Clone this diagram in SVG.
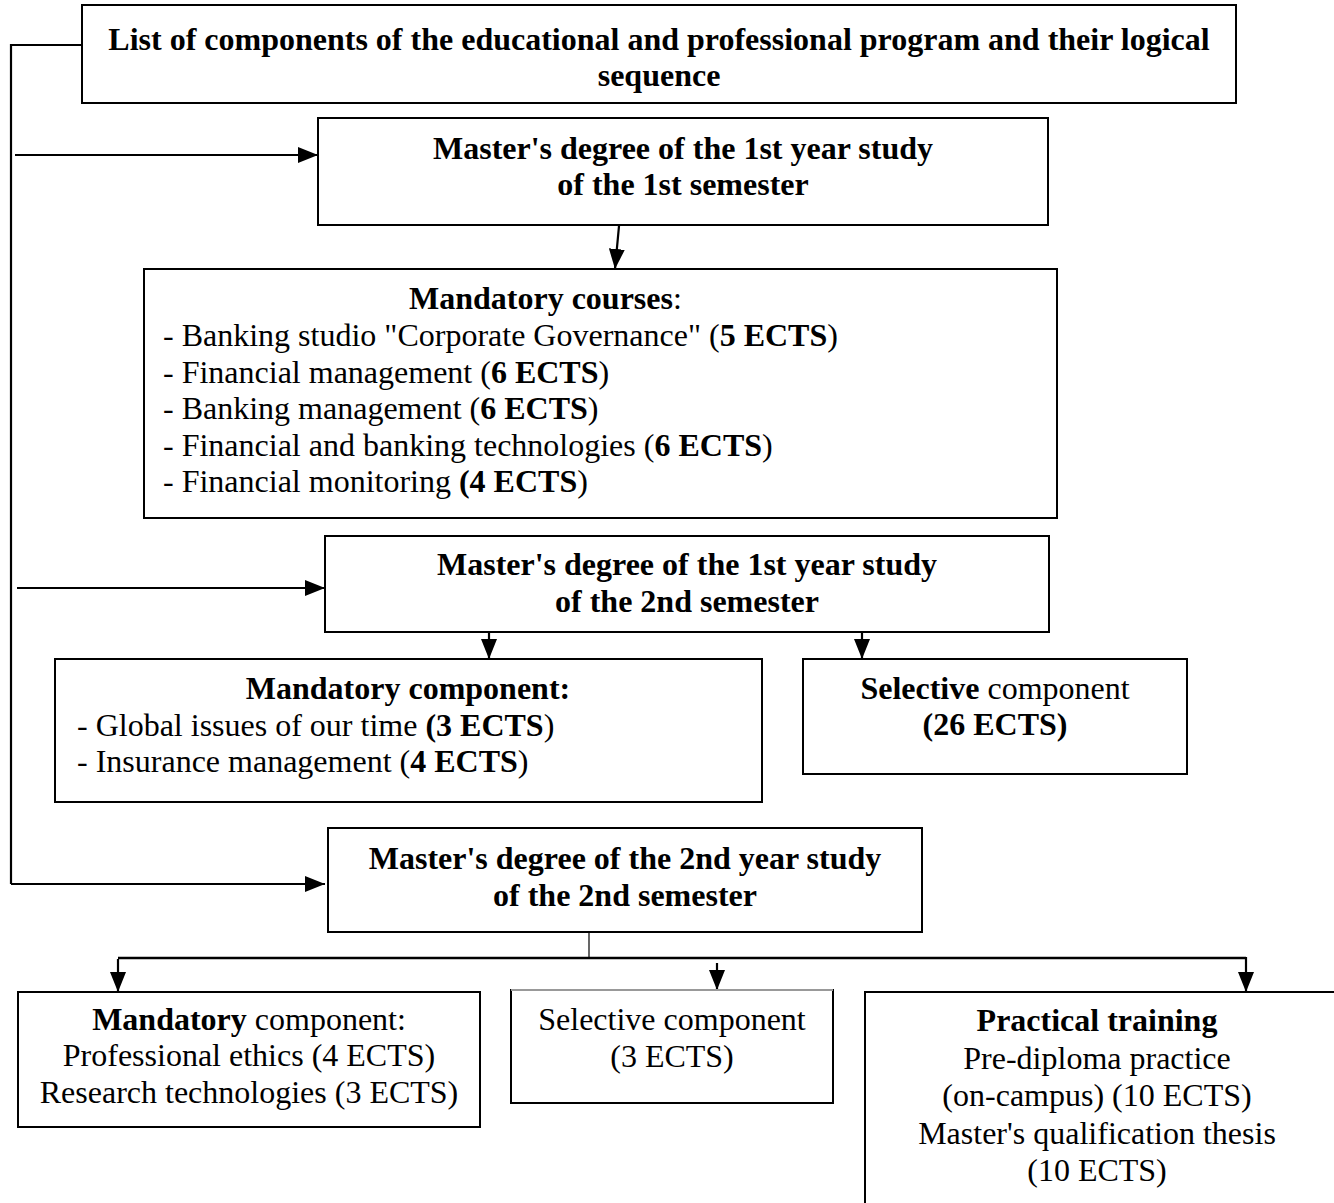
<svg xmlns="http://www.w3.org/2000/svg" width="1334" height="1203" viewBox="0 0 1334 1203">
<defs>
<style>
.box{fill:#fff;stroke:#000;stroke-width:2}
.ln{fill:none;stroke:#000;stroke-width:2.2}
text{font-family:"Liberation Serif","Times New Roman",serif;font-size:32px;fill:#000}
.c{text-anchor:middle}
.b{font-weight:bold}
</style>
<marker id="ar" markerUnits="userSpaceOnUse" markerWidth="20" markerHeight="16" viewBox="0 0 20 16" refX="20" refY="8" orient="auto">
<path d="M0,0 L20,8 L0,16 Z" fill="#000"/>
</marker>
</defs>
<rect width="1334" height="1203" fill="#fff"/>

<g id="connectors">
<path class="ln" d="M82,45 H11 V884"/>
<line class="ln" x1="15" y1="155" x2="318" y2="155" marker-end="url(#ar)"/>
<line class="ln" x1="17" y1="588" x2="325" y2="588" marker-end="url(#ar)"/>
<line class="ln" x1="11" y1="884" x2="325" y2="884" marker-end="url(#ar)"/>
<line class="ln" x1="619" y1="226" x2="615" y2="269" marker-end="url(#ar)"/>
<line class="ln" x1="489" y1="633" x2="489" y2="659" marker-end="url(#ar)"/>
<line class="ln" x1="862" y1="633" x2="862" y2="659" marker-end="url(#ar)"/>
<line x1="589" y1="932" x2="589" y2="957" stroke="#000" stroke-width="1.2"/>
<line x1="118" y1="958" x2="1246" y2="958" stroke="#000" stroke-width="2.6"/>
<line class="ln" x1="118" y1="959" x2="118" y2="992" marker-end="url(#ar)"/>
<line class="ln" x1="717" y1="963" x2="717" y2="990" marker-end="url(#ar)"/>
<line class="ln" x1="1246" y1="957" x2="1246" y2="992" marker-end="url(#ar)"/>
</g>

<g id="n1">
<rect class="box" x="82" y="5" width="1154" height="98"/>
<text class="c b" x="659" y="50">List of components of the educational and professional program and their logical</text>
<text class="c b" x="659" y="86">sequence</text>
</g>

<g id="n2">
<rect class="box" x="318" y="118" width="730" height="107"/>
<text class="c b" x="683" y="159">Master's degree of the 1st year study</text>
<text class="c b" x="683" y="195">of the 1st semester</text>
</g>

<g id="n3">
<rect class="box" x="144" y="269" width="913" height="249"/>
<text x="409" y="309"><tspan class="b">Mandatory courses</tspan>:</text>
<text x="163" y="346">- Banking studio "Corporate Governance" (<tspan class="b">5 ECTS</tspan>)</text>
<text x="163" y="383">- Financial management (<tspan class="b">6 ECTS</tspan>)</text>
<text x="163" y="419">- Banking management (<tspan class="b">6 ECTS</tspan>)</text>
<text x="163" y="456">- Financial and banking technologies (<tspan class="b">6 ECTS</tspan>)</text>
<text x="163" y="492">- Financial monitoring <tspan class="b">(4 ECTS</tspan>)</text>
</g>

<g id="n4">
<rect class="box" x="325" y="536" width="724" height="96"/>
<text class="c b" x="687" y="575">Master's degree of the 1st year study</text>
<text class="c b" x="687" y="612">of the 2nd semester</text>
</g>

<g id="n5">
<rect class="box" x="55" y="659" width="707" height="143"/>
<text class="c b" x="408" y="699">Mandatory component:</text>
<text x="77" y="736">- Global issues of our time <tspan class="b">(3 ECTS</tspan>)</text>
<text x="77" y="772">- Insurance management (<tspan class="b">4 ECTS</tspan>)</text>
</g>

<g id="n6">
<rect class="box" x="803" y="659" width="384" height="115"/>
<text class="c" x="995" y="699"><tspan class="b">Selective</tspan> component</text>
<text class="c b" x="995" y="735">(26 ECTS)</text>
</g>

<g id="n7">
<rect class="box" x="328" y="828" width="594" height="104"/>
<text class="c b" x="625" y="869">Master's degree of the 2nd year study</text>
<text class="c b" x="625" y="906">of the 2nd semester</text>
</g>

<g id="n8">
<rect class="box" x="18" y="992" width="462" height="135"/>
<text class="c" x="249" y="1030"><tspan class="b">Mandatory</tspan> component:</text>
<text class="c" x="249" y="1066">Professional ethics (4 ECTS)</text>
<text class="c" x="249" y="1103">Research technologies (3 ECTS)</text>
</g>

<g id="n9">
<rect x="511" y="990" width="322" height="113" fill="#fff" stroke="#000" stroke-width="2"/>
<line x1="511" y1="990" x2="833" y2="990" stroke="#999" stroke-width="2"/>
<text class="c" x="672" y="1030">Selective component</text>
<text class="c" x="672" y="1067">(3 ECTS)</text>
</g>

<g id="n10">
<path d="M1334,992 H865 V1203" fill="#fff" stroke="#000" stroke-width="2"/>
<text class="c b" x="1097" y="1031">Practical training</text>
<text class="c" x="1097" y="1069">Pre-diploma practice</text>
<text class="c" x="1097" y="1106">(on-campus) (10 ECTS)</text>
<text class="c" x="1097" y="1144">Master's qualification thesis</text>
<text class="c" x="1097" y="1181">(10 ECTS)</text>
</g>
</svg>
